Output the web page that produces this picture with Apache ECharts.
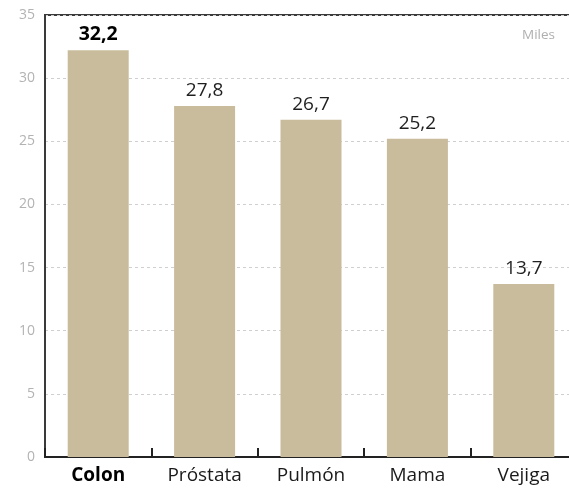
<!DOCTYPE html>
<html>
<head>
<meta charset="utf-8">
<script src="https://cdn.jsdelivr.net/npm/echarts@6/dist/echarts.min.js"></script>
<style>
  html, body { margin: 0; padding: 0; background: #ffffff; overflow: hidden; }
  #frame { width: 569px; height: 488px; overflow: hidden; position: relative; }
  /* the plot frame runs past the right edge, so the canvas is a bit wider than the frame */
  #chart { width: 580px; height: 488px; }
</style>
</head>
<body>
<div id="frame"><div id="chart"></div></div>
<script>
// Cancer types and case counts (thousands)
const categories = ['Colon', 'Próstata', 'Pulmón', 'Mama', 'Vejiga'];
const values = [32.2, 27.8, 26.7, 25.2, 13.7];
const yTicks = [0, 5, 10, 15, 20, 25, 30, 35];
const unitLabel = 'Miles';

const FONT = '"Open Sans", "Noto Sans", sans-serif';
const fmt = v => String(v).replace('.', ',');

const chart = echarts.init(document.getElementById('chart'), null, { renderer: 'canvas' });

chart.setOption({
  animation: false,
  backgroundColor: '#ffffff',
  grid: {
    left: 45, top: 15, bottom: 31, right: 3,
    show: true, borderColor: '#3a3a3a', borderWidth: 2, backgroundColor: 'transparent'
  },
  graphic: [{
    type: 'text', left: 522, top: 28,
    style: { text: unitLabel, fill: '#b0b0b0', font: '13.5px ' + FONT }
  }],
  xAxis: {
    type: 'category',
    data: categories,
    axisLine: { show: true, lineStyle: { color: '#222', width: 2 } },
    axisTick: { show: true, inside: true, length: 9, lineStyle: { color: '#222', width: 2 } },
    axisLabel: {
      interval: 0, hideOverlap: false,
      margin: 9,
      fontFamily: FONT, fontSize: 19, color: '#1a1a1a',
      formatter: (v, i) => i === 0 ? '{b|' + v + '}' : v,
      rich: { b: { fontFamily: FONT, fontSize: 19, fontWeight: 'bold', color: '#000' } }
    }
  },
  yAxis: {
    type: 'value',
    min: yTicks[0], max: yTicks[yTicks.length - 1], interval: 5,
    axisLine: { show: true, lineStyle: { color: '#3a3a3a', width: 2 } },
    axisTick: { show: false },
    axisLabel: { margin: 10, fontFamily: FONT, fontSize: 14, color: '#b3b3b3' },
    splitLine: {
      show: true,
      lineStyle: { color: '#cfcfcf', type: [3, 3], width: 1 }
    }
  },
  series: [{
    type: 'bar',
    data: values.map((v, i) => ({
      value: v,
      label: i === 0 ? { fontWeight: 'bold', color: '#000', fontSize: 19.5 } : {}
    })),
    barWidth: 61,
    itemStyle: { color: '#c9bc9c' },
    label: {
      show: true, position: 'top', distance: 6,
      fontFamily: FONT, fontSize: 19, color: '#1f1f1f',
      formatter: p => fmt(p.value)
    },
    z: 3
  }]
});
</script>
</body>
</html>
